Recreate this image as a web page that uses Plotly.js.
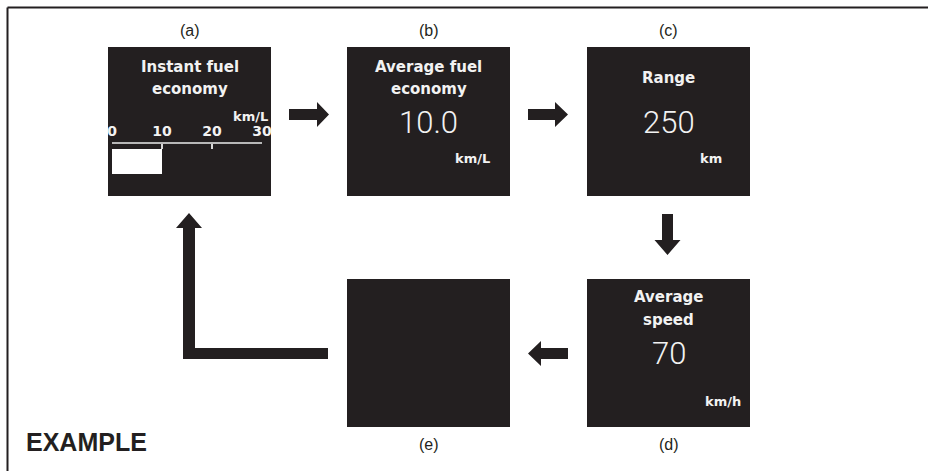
<!DOCTYPE html>
<html>
<head>
<meta charset="utf-8">
<script src="https://cdn.plot.ly/plotly-3.0.1.min.js"></script>
<style>html,body{margin:0;padding:0;background:#fff;}#chart{width:928px;height:471px;}</style>
</head>
<body>
<div id="chart"></div>
<script>
// ---- content ----
const panelLabels = ['(a)', '(b)', '(c)', '(d)', '(e)'];
const panelTitles = [['Instant fuel', 'economy'], ['Average fuel', 'economy'], ['Range'], ['Average', 'speed'], []];
const panelValues = ['', '10.0', '250', '70', ''];
const panelUnits = ['km/L', 'km/L', 'km', 'km/h', ''];
const scaleTicks = [0, 10, 20, 30];
const instantEconomy = [10];
const footnote = 'EXAMPLE';

// ---- layout (pixel positions, y measured from top) ----
const W = 928, H = 471;
const INK = '#231f20';
const boxes = [
  {x0: 108, x1: 271, y0: 47, y1: 196},
  {x0: 347, x1: 510, y0: 47, y1: 196},
  {x0: 587, x1: 750, y0: 47, y1: 196},
  {x0: 587, x1: 750, y0: 279, y1: 427},
  {x0: 347, x1: 510, y0: 279, y1: 427}
];
const labelY = [30, 30, 30, 444, 444];
const titleY = [[67, 89], [67, 89], [78], [297, 320], []];
const valueY = [0, 122, 122, 353, 0];
const unitPos = [[270, 116], [492, 158], [724, 158], [743, 401], [0, 0]];

const shapes = [];
const annotations = [];

// frame
shapes.push({type: 'line', xref: 'x', yref: 'y', x0: 7.5, x1: W, y0: 7.5, y1: 7.5, line: {color: INK, width: 2}});
shapes.push({type: 'line', xref: 'x', yref: 'y', x0: 7.5, x1: 7.5, y0: 7.5, y1: H, line: {color: INK, width: 2}});

boxes.forEach((b, i) => {
  shapes.push({type: 'rect', xref: 'x', yref: 'y', layer: 'below', x0: b.x0, x1: b.x1, y0: b.y0, y1: b.y1,
    fillcolor: INK, line: {width: 0}});
  const cx = (b.x0 + b.x1) / 2;
  annotations.push({xref: 'x', yref: 'y', x: cx, y: labelY[i], text: panelLabels[i], showarrow: false,
    xanchor: 'center', yanchor: 'middle', font: {family: 'Liberation Sans, Arial', size: 16, color: INK}});
  panelTitles[i].forEach((t, k) => {
    annotations.push({xref: 'x', yref: 'y', x: cx, y: titleY[i][k], text: t, showarrow: false,
      xanchor: 'center', yanchor: 'middle', font: {family: 'DejaVu Sans', size: 15, weight: 'bold', color: '#f2f2f2'}});
  });
  if (panelValues[i]) {
    annotations.push({xref: 'x', yref: 'y', x: cx, y: valueY[i], text: panelValues[i], showarrow: false,
      xanchor: 'center', yanchor: 'middle', font: {family: 'Roboto', size: 31, weight: 300, color: '#f2f2f2'}});
  }
  if (panelUnits[i]) {
    annotations.push({xref: 'x', yref: 'y', x: unitPos[i][0], y: unitPos[i][1], text: panelUnits[i], showarrow: false,
      xanchor: 'right', yanchor: 'middle', font: {family: 'DejaVu Sans', size: 13, weight: 'bold', color: '#f2f2f2'}});
  }
});

// arrows
const arrowPaths = [
  'M289,109 L317,109 L317,102 L329,114.5 L317,127 L317,120 L289,120 Z',
  'M528,109 L555,109 L555,102 L568,114.5 L555,127 L555,120 L528,120 Z',
  'M662,214 L673,214 L673,240 L680.5,240 L667.5,255 L654.5,240 L662,240 Z',
  'M568,348 L541,348 L541,341 L528,353.5 L541,366 L541,359 L568,359 Z',
  'M328,348 L195,348 L195,228 L202,228 L189,213 L176,228 L183,228 L183,359 L328,359 Z'
];
arrowPaths.forEach(p => shapes.push({type: 'path', xref: 'x', yref: 'y', path: p, fillcolor: INK, line: {width: 0}}));

annotations.push({xref: 'x', yref: 'y', x: 24, y: 442, text: '<b>' + footnote + '</b>', showarrow: false,
  xanchor: 'left', yanchor: 'middle', font: {family: 'Liberation Sans, Arial', size: 25, color: INK}});

// instant fuel economy bar gauge (own axes)
const traces = [
  {type: 'scatter', x: [0, W], y: [0, H], mode: 'markers', marker: {opacity: 0}, hoverinfo: 'skip', showlegend: false},
  {type: 'bar', orientation: 'h', x: instantEconomy, y: [0.5], width: 0.714, base: 0, xaxis: 'x2', yaxis: 'y2',
    marker: {color: '#ffffff', line: {width: 0}}, hoverinfo: 'skip', showlegend: false}
];

const layout = {
  width: W, height: H,
  margin: {l: 0, r: 0, t: 0, b: 0},
  paper_bgcolor: '#ffffff',
  plot_bgcolor: 'rgba(0,0,0,0)',
  showlegend: false,
  xaxis: {range: [0, W], visible: false, fixedrange: true},
  yaxis: {range: [H, 0], visible: false, fixedrange: true},
  xaxis2: {domain: [112 / W, 262 / W], range: [0, 30], anchor: 'y2', side: 'top',
    showline: true, linecolor: '#b8b8b8', linewidth: 2, ticks: 'inside', ticklen: 5, tickwidth: 2, tickcolor: '#d8d8d8',
    tickvals: scaleTicks, ticktext: scaleTicks.map(String), showgrid: false, zeroline: false, fixedrange: true,
    tickfont: {family: 'DejaVu Sans', size: 14, weight: 'bold', color: '#f2f2f2'}},
  yaxis2: {domain: [1 - 179 / H, 1 - 144 / H], range: [0, 1], anchor: 'x2', visible: false, fixedrange: true},
  shapes: shapes,
  annotations: annotations
};

Plotly.newPlot('chart', traces, layout, {staticPlot: true, displayModeBar: false});
</script>
</body>
</html>
